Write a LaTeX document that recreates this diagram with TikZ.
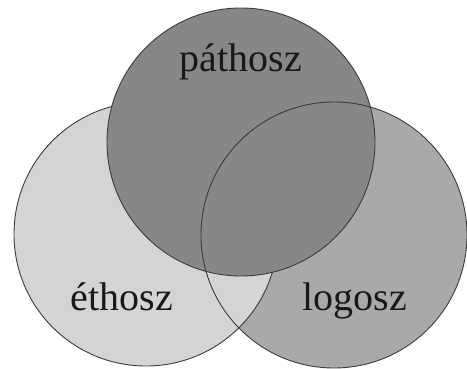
\documentclass[tikz,border=0pt]{standalone}
\usepackage{fontspec}
\setmainfont{Liberation Serif}
\definecolor{ctop}{HTML}{878787}
\definecolor{cleft}{HTML}{D4D4D4}
\definecolor{cright}{HTML}{A9A9A9}
\definecolor{cline}{HTML}{3C3C3C}
\begin{document}
\begin{tikzpicture}[x=1pt,y=-1pt,
  ring/.style={draw=cline,line width=0.9pt},
  lbl/.style={anchor=base,inner sep=0pt,font=\fontsize{40}{48}\selectfont,text=black!90}]
\useasboundingbox (0,0) rectangle (467,369);
\coordinate (T) at (241,142);
\coordinate (L) at (146,234);
\coordinate (R) at (334,235);
\fill[cright] (R) circle[radius=133];
\filldraw[ring,fill=cleft] (L) circle[radius=132];
\filldraw[ring,fill=ctop] (T) circle[radius=134];
\draw[ring] (R) circle[radius=133];
\node[lbl] (p) at (241,72) {páthosz};
\node[lbl] (e) at (122,310) {éthosz};
\node[lbl] (l) at (355,310) {logosz};
\end{tikzpicture}
\end{document}
